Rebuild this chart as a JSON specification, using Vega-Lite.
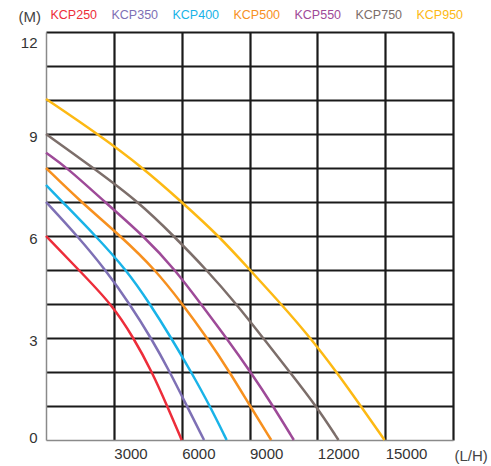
{
  "$schema": "https://vega.github.io/schema/vega-lite/v6.json",
  "width": 407,
  "height": 408,
  "autosize": "none",
  "padding": {"left": 46, "top": 32, "right": 38, "bottom": 26},
  "background": "white",
  "config": {
    "font": "Liberation Sans",
    "view": {"stroke": null}
  },
  "data": {
    "values": [
      {"model": "KCP250", "q": 0, "h": 6.0},
      {"model": "KCP250", "q": 1450, "h": 5},
      {"model": "KCP250", "q": 2900, "h": 4},
      {"model": "KCP250", "q": 3880, "h": 3},
      {"model": "KCP250", "q": 4690, "h": 2},
      {"model": "KCP250", "q": 5360, "h": 1},
      {"model": "KCP250", "q": 6000, "h": 0},
      {"model": "KCP350", "q": 0, "h": 7.0},
      {"model": "KCP350", "q": 1390, "h": 6},
      {"model": "KCP350", "q": 2640, "h": 5},
      {"model": "KCP350", "q": 3700, "h": 4},
      {"model": "KCP350", "q": 4650, "h": 3},
      {"model": "KCP350", "q": 5480, "h": 2},
      {"model": "KCP350", "q": 6230, "h": 1},
      {"model": "KCP350", "q": 6990, "h": 0},
      {"model": "KCP400", "q": 0, "h": 7.5},
      {"model": "KCP400", "q": 730, "h": 7},
      {"model": "KCP400", "q": 2200, "h": 6},
      {"model": "KCP400", "q": 3560, "h": 5},
      {"model": "KCP400", "q": 4600, "h": 4},
      {"model": "KCP400", "q": 5540, "h": 3},
      {"model": "KCP400", "q": 6420, "h": 2},
      {"model": "KCP400", "q": 7250, "h": 1},
      {"model": "KCP400", "q": 7990, "h": 0},
      {"model": "KCP500", "q": 0, "h": 8.0},
      {"model": "KCP500", "q": 1550, "h": 7},
      {"model": "KCP500", "q": 3300, "h": 6},
      {"model": "KCP500", "q": 4850, "h": 5},
      {"model": "KCP500", "q": 6030, "h": 4},
      {"model": "KCP500", "q": 7130, "h": 3},
      {"model": "KCP500", "q": 8120, "h": 2},
      {"model": "KCP500", "q": 9027, "h": 1},
      {"model": "KCP500", "q": 9960, "h": 0},
      {"model": "KCP550", "q": 0, "h": 8.45},
      {"model": "KCP550", "q": 950, "h": 8},
      {"model": "KCP550", "q": 2600, "h": 7},
      {"model": "KCP550", "q": 4330, "h": 6},
      {"model": "KCP550", "q": 5720, "h": 5},
      {"model": "KCP550", "q": 6850, "h": 4},
      {"model": "KCP550", "q": 7980, "h": 3},
      {"model": "KCP550", "q": 9050, "h": 2},
      {"model": "KCP550", "q": 10040, "h": 1},
      {"model": "KCP550", "q": 10960, "h": 0},
      {"model": "KCP750", "q": 0, "h": 9.0},
      {"model": "KCP750", "q": 2100, "h": 8},
      {"model": "KCP750", "q": 4100, "h": 7},
      {"model": "KCP750", "q": 5650, "h": 6},
      {"model": "KCP750", "q": 7110, "h": 5},
      {"model": "KCP750", "q": 8420, "h": 4},
      {"model": "KCP750", "q": 9600, "h": 3},
      {"model": "KCP750", "q": 10780, "h": 2},
      {"model": "KCP750", "q": 11950, "h": 1},
      {"model": "KCP750", "q": 12935, "h": 0},
      {"model": "KCP950", "q": 0, "h": 10.03},
      {"model": "KCP950", "q": 2290, "h": 9},
      {"model": "KCP950", "q": 4300, "h": 8},
      {"model": "KCP950", "q": 6000, "h": 7},
      {"model": "KCP950", "q": 7650, "h": 6},
      {"model": "KCP950", "q": 9020, "h": 5},
      {"model": "KCP950", "q": 10400, "h": 4},
      {"model": "KCP950", "q": 11700, "h": 3},
      {"model": "KCP950", "q": 12850, "h": 2},
      {"model": "KCP950", "q": 13920, "h": 1},
      {"model": "KCP950", "q": 14970, "h": 0}
    ]
  },
  "mark": {"type": "line", "interpolate": "basis", "strokeWidth": 2.5},
  "encoding": {
    "x": {
      "field": "q",
      "type": "quantitative",
      "scale": {"domain": [0, 18000], "nice": false, "zero": true},
      "axis": {
        "values": [0, 3000, 6000, 9000, 12000, 15000, 18000],
        "format": "d",
        "labelExpr": "datum.value === 0 || datum.value === 18000 ? '' : datum.label",
        "labelAlign": "left",
        "labelDx": -4,
        "labelBaseline": "top",
        "labelPadding": 6,
        "labelFlush": false,
        "labelOverlap": false,
        "labelFontSize": 15,
        "labelColor": "#333333",
        "ticks": false,
        "domainColor": "#8a8a8a",
        "domainWidth": 1.5,
        "grid": true,
        "gridColor": {"condition": {"test": "datum.value === 0", "value": "transparent"}, "value": "#1a1a1a"},
        "gridWidth": 2.2,
        "gridOpacity": 1,
        "title": "(L/H)",
        "titleFontSize": 15,
        "titleFontWeight": "normal",
        "titleColor": "#444444",
        "titleAlign": "left",
        "titleAnchor": null,
        "titleBaseline": "middle",
        "titleX": 408,
        "titleY": 15
      }
    },
    "y": {
      "field": "h",
      "type": "quantitative",
      "scale": {"domain": [0, 12], "nice": false},
      "axis": {
        "values": [0, 1, 2, 3, 4, 5, 6, 7, 8, 9, 10, 11, 12],
        "labelExpr": "datum.value % 3 === 0 ? datum.label : ''",
        "labelBaseline": "middle",
        "labelPadding": 9,
        "labelFlush": false,
        "labelOverlap": false,
        "labelFontSize": 15,
        "labelColor": "#333333",
        "labelOffset": {"condition": [{"test": "datum.value === 12", "value": 10}, {"test": "datum.value === 0", "value": -3}], "value": 2},
        "ticks": false,
        "domainColor": "#8a8a8a",
        "domainWidth": 1.5,
        "grid": true,
        "gridColor": {"condition": {"test": "datum.value === 0", "value": "transparent"}, "value": "#1a1a1a"},
        "gridWidth": 2.2,
        "gridOpacity": 1,
        "title": "(M)",
        "titleFontSize": 15,
        "titleFontWeight": "normal",
        "titleColor": "#444444",
        "titleAngle": 0,
        "titleAlign": "left",
        "titleAnchor": null,
        "titleBaseline": "middle",
        "titleX": -28,
        "titleY": -16
      }
    },
    "color": {
      "field": "model",
      "type": "nominal",
      "scale": {
        "domain": ["KCP250", "KCP350", "KCP400", "KCP500", "KCP550", "KCP750", "KCP950"],
        "range": ["#ED2D3A", "#7E70B5", "#19B3E8", "#F7901E", "#9E4A98", "#7C6E6A", "#FDB913"]
      },
      "legend": {
        "orient": "none",
        "direction": "horizontal",
        "legendX": -9,
        "legendY": -23,
        "title": null,
        "symbolSize": 1,
        "symbolOpacity": 0,
        "symbolStrokeWidth": 0,
        "labelOffset": 1,
        "columnPadding": 0,
        "labelFontSize": 12.5,
        "labelBaseline": "middle",
        "encode": {
          "labels": {"update": {"fill": {"scale": "color", "field": "value"}}}
        }
      }
    }
  }
}
